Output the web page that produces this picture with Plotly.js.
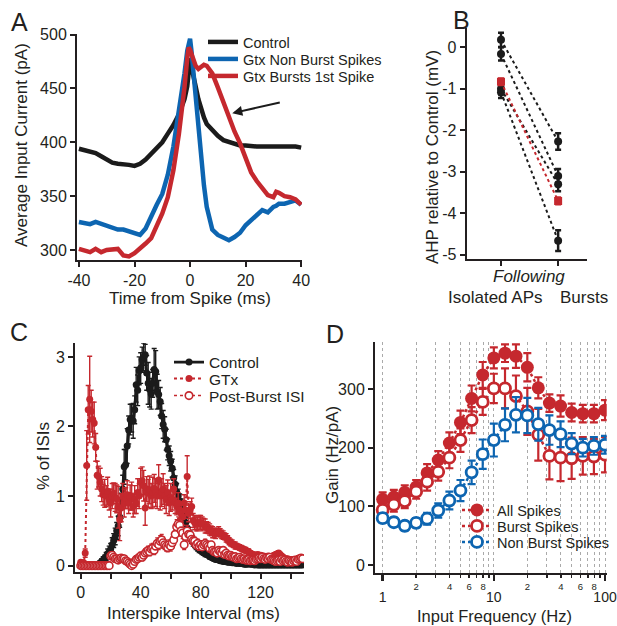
<!DOCTYPE html>
<html><head><meta charset="utf-8">
<script src="https://cdn.plot.ly/plotly-3.0.1.min.js"></script>
<style>html,body{margin:0;padding:0;background:#fff}#chart{width:617px;height:626px}</style>
</head><body><div id="chart"></div>
<script>
// ---------- Panel A data ----------
const tA = [-40,-38,-36,-34,-32,-30,-28,-26,-24,-22,-20,-18,-16,-14,-12,-10,-8,-6,-4,-3,-2,-1,-0.5,0,0.5,1,2,3,4,5,6,7,8,10,12,14,16,18,20,22,24,26,28,30,31,32,34,36,38,40];
const aControl = [394,393,391,390,387,384,381,380,380,379,378,380,384,389,394,400,408,416,426,432,440,452,462,478,470,462,452,440,430,423,417,414,411,406,402,400,398,397,397,396,396,396,396,396,396,397,397,396,396,395];
const aNonBurst = [326,325,324,326,324,322,320,319,319,317,315,314,320,332,342,352,370,396,428,445,464,485,494,496,485,470,445,417,386,360,340,328,319,314,312,309,312,316,323,328,333,337,335,340,341,343,343,345,346,342];
const aBurst1st = [301,300,298,301,298,300,300,301,295,294,297,301,306,311,322,334,349,374,408,428,451,478,488,486,482,478,471,468,470,472,471,468,464,451,437,423,410,399,386,372,364,357,351,349,354,353,350,349,347,342];
const aNames = ['Control','Gtx Non Burst Spikes','Gtx Bursts 1st Spike'];

// ---------- Panel B data ----------
const bX = [0,1];
const bIso = [0.18,-0.16,-1.0,-1.08];
const bBurst = [-2.27,-3.1,-3.3,-4.66];
const bIsoErr = [0.17,0.16,0.14,0.14];
const bBurstErr = [0.2,0.17,0.17,0.25];
const bRed = [-0.83,-3.7];
const bRedErr = [0.08,0.08];

// ---------- Panel C data (1 ms bins) ----------
const tC = Array.from({length:149},(_,i)=>i);
const cControl = [
0,0,0,0,0,0,0,0,0,0,
0,0,0.02,0.04,0.06,0.08,0.1,0.13,0.17,0.2,
0.24,0.3,0.36,0.42,0.5,0.57,0.7,0.86,1.1,1.42,
1.45,1.72,1.95,2.1,2.12,2.08,2.24,2.6,2.52,2.8,
2.84,2.96,3.0,3.03,2.77,2.62,2.53,2.47,2.62,2.82,
2.79,2.5,2.46,2.36,2.15,2.03,1.96,1.81,1.67,1.58,
1.5,1.4,1.26,1.17,1.06,1.0,0.93,0.86,0.79,0.7,
0.62,0.54,0.48,0.43,0.38,0.34,0.31,0.28,0.26,0.24,
0.22,0.2,0.19,0.17,0.16,0.15,0.13,0.12,0.11,0.1,
0.09,0.09,0.08,0.07,0.07,0.06,0.06,0.06,0.05,0.05,
0.05,0.04,0.04,0.04,0.03,0.04,0.03,0.03,0.03,0.02,
0.02,0.02,0.03,0.02,0.02,0.02,0.01,0.02,0.01,0.01,
0.01,0.01,0.01,0.01,0.01,0.01,0.01,0.01,0.01,0.01,
0.01,0.01,0.01,0.01,0.01,0.01,0.01,0.01,0.01,0.01,
0.01,0.01,0.01,0.01,0.01,0.01,0.01,0.01,0.01];
const cControlErr = [
0,0,0,0,0,0,0,0,0,0,
0,0,0.02,0.03,0.04,0.05,0.05,0.06,0.07,0.08,
0.08,0.1,0.1,0.12,0.12,0.14,0.15,0.18,0.2,0.25,
0.22,0.25,0.2,0.22,0.2,0.25,0.2,0.25,0.22,0.2,
0.22,0.18,0.2,0.15,0.25,0.3,0.25,0.22,0.2,0.3,
0.3,0.25,0.2,0.2,0.18,0.2,0.18,0.15,0.15,0.14,
0.14,0.13,0.12,0.12,0.12,0.1,0.1,0.1,0.09,0.09,
0.08,0.08,0.07,0.07,0.06,0.06,0.05,0.05,0.05,0.05,
0.04,0.04,0.04,0.04,0.03,0.03,0.03,0.03,0.03,0.03,
0.02,0.02,0.02,0.02,0.02,0.02,0.02,0.02,0.02,0.02,
0.02,0.02,0.02,0.02,0.02,0.02,0.02,0.02,0.02,0.02,
0.02,0.02,0.02,0.02,0.02,0.02,0.02,0.02,0.02,0.02,
0.01,0.01,0.01,0.01,0.01,0.01,0.01,0.01,0.01,0.01,
0.01,0.01,0.01,0.01,0.01,0.01,0.01,0.01,0.01,0.01,
0.01,0.01,0.01,0.01,0.01,0.01,0.01,0.01,0.01];
const cGtx = [
0.05,0.04,0.04,0.18,1.44,2.24,2.39,2.22,2.1,2.05,
1.7,1.3,1.28,1.2,1.1,1.02,1.04,1.0,1.07,0.95,
0.9,1.0,1.04,0.98,0.96,0.84,0.66,0.83,1.0,0.9,
0.97,1.02,0.9,0.98,1.0,0.85,0.95,0.9,1.05,1.0,
1.2,1.22,1.15,0.83,1.1,1.04,1.09,1.0,1.05,1.11,
1.05,1.0,1.23,1.0,1.05,1.1,1.0,0.95,1.05,0.9,
0.98,0.95,1.1,0.9,0.85,0.9,0.8,0.75,0.7,0.9,
0.8,1.28,0.75,0.8,0.85,0.65,0.62,0.6,0.6,0.62,
0.62,0.6,0.6,0.57,0.55,0.54,0.52,0.5,0.48,0.47,
0.46,0.48,0.49,0.47,0.45,0.44,0.42,0.4,0.38,0.35,
0.33,0.32,0.3,0.29,0.28,0.27,0.26,0.25,0.24,0.23,
0.22,0.21,0.2,0.18,0.17,0.16,0.15,0.15,0.16,0.15,
0.15,0.14,0.14,0.13,0.13,0.14,0.13,0.13,0.14,0.15,
0.16,0.17,0.18,0.16,0.14,0.12,0.1,0.1,0.1,0.09,
0.09,0.08,0.08,0.09,0.09,0.1,0.1,0.1,0.1];
const cGtxErr = [
0.02,0.02,0.02,0.06,0.5,0.35,0.62,0.3,0.25,0.3,
0.2,0.2,0.15,0.2,0.18,0.15,0.2,0.15,0.2,0.15,
0.2,0.18,0.15,0.2,0.2,0.3,0.3,0.2,0.18,0.2,
0.15,0.2,0.15,0.18,0.2,0.15,0.2,0.15,0.2,0.18,
0.2,0.2,0.22,0.25,0.18,0.2,0.2,0.18,0.22,0.2,
0.2,0.18,0.22,0.2,0.2,0.22,0.18,0.2,0.18,0.18,
0.2,0.15,0.15,0.15,0.12,0.15,0.12,0.12,0.12,0.12,
0.12,0.3,0.12,0.12,0.12,0.1,0.1,0.1,0.1,0.1,
0.1,0.1,0.08,0.1,0.08,0.08,0.08,0.07,0.08,0.07,
0.07,0.06,0.07,0.06,0.06,0.06,0.05,0.06,0.05,0.05,
0.05,0.05,0.04,0.05,0.04,0.04,0.04,0.04,0.04,0.04,
0.04,0.03,0.04,0.03,0.03,0.03,0.03,0.03,0.03,0.03,
0.03,0.03,0.03,0.03,0.03,0.03,0.03,0.03,0.03,0.03,
0.03,0.03,0.03,0.03,0.03,0.03,0.03,0.03,0.03,0.03,
0.03,0.03,0.03,0.03,0.03,0.03,0.03,0.03,0.03];
const cPost = [
0,0,0,0,0,0,0,0,0,0,
0,0,0,0,0,0,0,0,0,0,
0.14,0.15,0.12,0.1,0.1,0.08,0.1,0.11,0.1,0.1,
0.07,0.06,0.04,0.02,0.0,0.02,0.06,0.09,0.1,0.12,
0.14,0.12,0.15,0.18,0.2,0.22,0.2,0.24,0.25,0.22,
0.28,0.32,0.3,0.35,0.37,0.33,0.3,0.28,0.26,0.3,
0.28,0.33,0.37,0.45,0.56,0.6,0.58,0.5,0.47,0.3,
0.42,0.5,0.45,0.44,0.38,0.36,0.35,0.3,0.32,0.28,
0.3,0.27,0.3,0.32,0.3,0.28,0.25,0.3,0.22,0.2,
0.2,0.18,0.22,0.2,0.18,0.22,0.16,0.18,0.15,0.14,
0.15,0.13,0.12,0.13,0.1,0.11,0.12,0.1,0.09,0.1,
0.08,0.08,0.09,0.07,0.08,0.08,0.07,0.09,0.1,0.11,
0.1,0.12,0.1,0.09,0.11,0.1,0.12,0.09,0.08,0.07,
0.06,0.07,0.08,0.06,0.09,0.07,0.08,0.06,0.05,0.07,
0.06,0.05,0.07,0.08,0.06,0.09,0.1,0.11,0.1];
const cPostErr = [
0,0,0,0,0,0,0,0,0,0,
0,0,0,0,0,0,0,0,0,0,
0.05,0.05,0.04,0.04,0.04,0.04,0.04,0.04,0.04,0.04,
0.04,0.04,0.03,0.03,0.03,0.03,0.04,0.04,0.04,0.05,
0.05,0.05,0.05,0.06,0.06,0.06,0.06,0.07,0.07,0.06,
0.07,0.08,0.07,0.08,0.08,0.08,0.07,0.07,0.06,0.07,
0.07,0.08,0.08,0.08,0.1,0.1,0.1,0.08,0.08,0.07,
0.08,0.08,0.08,0.07,0.07,0.07,0.06,0.06,0.06,0.06,
0.06,0.05,0.06,0.06,0.05,0.05,0.05,0.05,0.05,0.04,
0.04,0.04,0.04,0.04,0.04,0.04,0.04,0.04,0.04,0.04,
0.04,0.04,0.04,0.04,0.04,0.04,0.04,0.04,0.04,0.04,
0.03,0.03,0.03,0.03,0.03,0.03,0.03,0.03,0.03,0.03,
0.03,0.03,0.03,0.03,0.03,0.03,0.03,0.03,0.03,0.03,
0.03,0.03,0.03,0.03,0.03,0.03,0.03,0.03,0.03,0.03,
0.03,0.03,0.03,0.03,0.03,0.03,0.03,0.03,0.03];

// ---------- Panel D data ----------
const fD = [1,1.26,1.58,2,2.51,3.16,3.98,5.01,6.31,7.94,10,12.6,15.8,20,25.1,31.6,39.8,50.1,63.1,79.4,100];
const dAll = [112,116,124,133,157,179,208,243,284,324,353,361,356,337,302,276,271,260,258,258,264];
const dAllErr = [12,12,12,12,15,15,18,20,22,22,18,15,20,24,18,15,18,15,15,15,17];
const dBurst = [94,103,109,125,142,159,183,213,247,278,301,301,288,262,222,186,183,182,186,185,188];
const dBurstErr = [10,12,12,12,15,15,18,20,22,22,25,34,35,40,44,40,40,35,32,30,30];
const dNon = [80,73,67,72,79,93,110,127,158,189,213,239,256,255,240,230,223,207,200,203,205];
const dNonErr = [8,8,8,8,10,12,15,18,20,25,28,28,30,30,28,25,22,18,15,15,15];
const dMinorVals = [1,2,3,4,5,6,7,8,9,10,20,30,40,50,60,70,80,90,100];
const dMinorText = ['','2','','4','','6','','8','','','2','','4','','6','','8','',''];
const dMajorVals = [1,10,100];
const dMajorText = ['1','10','100'];

// ---------- styling ----------
const W = 617, H = 626;
const RED = '#c5282e', BLUE = '#0d65b1', BLK = '#1b1b1b', TXT = '#231f20';
const FONT = 'Liberation Sans, Arial, sans-serif';
const dx = (a,b)=>[a/W,b/W];
const dy = (t,b)=>[1-b/H,1-t/H];
const base = {showline:true, linewidth:2, linecolor:TXT, ticks:'outside', ticklen:5, tickwidth:2, tickcolor:TXT,
  showgrid:false, zeroline:false, tickfont:{size:16,color:TXT,family:FONT}, fixedrange:true};

const traces = [];
// A
[[aControl,BLK],[aNonBurst,BLUE],[aBurst1st,RED]].forEach((p,i)=>{
  traces.push({x:tA, y:p[0], xaxis:'x', yaxis:'y', type:'scatter', mode:'lines', name:aNames[i],
    line:{color:p[1], width:4.5}, legend: i===0 ? 'legend' : 'legend'+(i+1)});
});
// B
bIso.forEach((v,i)=>{
  traces.push({x:bX, y:[v,bBurst[i]], xaxis:'x2', yaxis:'y2', type:'scatter', mode:'lines+markers', showlegend:false,
    line:{color:BLK, width:2, dash:'dot'}, marker:{color:BLK, size:8},
    error_y:{type:'data', array:[bIsoErr[i],bBurstErr[i]], color:BLK, thickness:2.5, width:3}});
});
traces.push({x:bX, y:bRed, xaxis:'x2', yaxis:'y2', type:'scatter', mode:'lines+markers', showlegend:false,
  line:{color:RED, width:2, dash:'dot'}, marker:{color:RED, size:8, symbol:'square'},
  error_y:{type:'data', array:bRedErr, color:RED, thickness:2.5, width:3}});
// C
traces.push({x:tC, y:cControl, xaxis:'x3', yaxis:'y3', type:'scatter', mode:'lines+markers', name:'Control', legend:'legend4',
  line:{color:BLK, width:2.8}, marker:{color:BLK, size:7},
  error_y:{type:'data', array:cControlErr, color:BLK, thickness:1.4, width:2.5}});
traces.push({x:tC, y:cGtx, xaxis:'x3', yaxis:'y3', type:'scatter', mode:'lines+markers', name:'GTx', legend:'legend5',
  line:{color:RED, width:2, dash:'dot'}, marker:{color:RED, size:7},
  error_y:{type:'data', array:cGtxErr, color:RED, thickness:1.4, width:2.5}});
traces.push({x:tC, y:cPost, xaxis:'x3', yaxis:'y3', type:'scatter', mode:'lines+markers', name:'Post-Burst ISI', legend:'legend6',
  line:{color:RED, width:1.5, dash:'dot'}, marker:{color:'#fff', size:7.5, line:{color:RED, width:1.6}},
  error_y:{type:'data', array:cPostErr, color:RED, thickness:1.3, width:2}});
// D
traces.push({x:fD, y:dAll, xaxis:'x4', yaxis:'y4', type:'scatter', mode:'lines+markers', name:'All Spikes', legend:'legend7',
  line:{color:RED, width:2.5, dash:'dot'}, marker:{color:RED, size:13},
  error_y:{type:'data', array:dAllErr, color:RED, thickness:2.2, width:4}});
traces.push({x:fD, y:dBurst, xaxis:'x4', yaxis:'y4', type:'scatter', mode:'lines+markers', name:'Burst Spikes', legend:'legend8',
  line:{color:RED, width:2.5, dash:'dot'}, marker:{color:'#fff', size:11, line:{color:RED, width:2.8}},
  error_y:{type:'data', array:dBurstErr, color:RED, thickness:2.2, width:4}});
traces.push({x:fD, y:dNon, xaxis:'x5', yaxis:'y4', type:'scatter', mode:'lines+markers', name:'Non Burst Spikes', legend:'legend9',
  line:{color:BLUE, width:2.5, dash:'dot'}, marker:{color:'#fff', size:11, line:{color:BLUE, width:2.8}},
  error_y:{type:'data', array:dNonErr, color:BLUE, thickness:2.2, width:4}});

const ann = [];
function txt(t,x,y,size,extra){ann.push(Object.assign({text:t, xref:'paper', yref:'paper', x:x/W, y:1-y/H, showarrow:false,
  xanchor:'center', yanchor:'middle', font:{size:size, color:TXT, family:FONT}}, extra||{}));}
txt('A',19,22,25); txt('B',461,20,25); txt('C',19,332,25); txt('D',335,334,25);
txt('Time from Spike (ms)',190,298,17);
txt('Average Input Current (pA)',21,145,17,{textangle:-90});
txt('AHP relative to Control (mV)',432,157,17,{textangle:-90});
txt('<i>Following</i>',529,277,17);
txt('Isolated APs',495.5,297,17);
txt('Bursts',584,297,17);
txt('Interspike Interval (ms)',193,613,17);
txt('% of ISIs',43,456,17,{textangle:-90});
txt('Input Frequency (Hz)',494,616,16.5);
txt('Gain (Hz/pA)',333,455,17,{textangle:-90});
// arrow in A pointing at red trace
ann.push({xref:'x', yref:'y', x:15.2, y:427, ax:49, ay:-11, axref:'pixel', ayref:'pixel', showarrow:true,
  arrowhead:2, arrowsize:1, arrowwidth:2, arrowcolor:BLK, text:''});

// one legend per entry; (x of legend left, y of entry centre) in px
const leg = (x,cy,size)=>({x:x/W, y:1-(cy-16)/H, xanchor:'left', yanchor:'top', bgcolor:'rgba(0,0,0,0)',
  font:{size:size, color:TXT, family:FONT}, borderwidth:0});

const layout = {
  width:W, height:H, margin:{l:0,r:0,t:0,b:0}, paper_bgcolor:'#fff', plot_bgcolor:'rgba(0,0,0,0)',
  font:{family:FONT, color:TXT},
  showlegend:true,
  legend: leg(203,42,14.5), legend2: leg(203,59,14.5), legend3: leg(203,76,14.5),
  legend4: leg(169,361.5,15.5), legend5: leg(169,378,15.5), legend6: leg(169,395,15.5),
  legend7: leg(457,510,14.5), legend8: leg(457,526,14.5), legend9: leg(457,542,14.5),
  xaxis: Object.assign({}, base, {domain:dx(77,302), range:[-40.7,40.3], anchor:'y', tickvals:[-40,-20,0,20,40], ticktext:['-40','-20','0','20','40']}),
  yaxis: Object.assign({}, base, {domain:dy(34,260), range:[290.7,500.5], anchor:'x', tickvals:[300,350,400,450,500]}),
  xaxis2: Object.assign({}, base, {domain:dx(466.7,586.7), range:[-0.6,1.5], anchor:'y2', tickvals:[0,1], showticklabels:false}),
  yaxis2: Object.assign({}, base, {domain:dy(28,259), range:[-5.1,0.465], anchor:'x2', tickvals:[0,-1,-2,-3,-4,-5], ticktext:['0','-1','-2','-3','-4','-5']}),
  xaxis3: Object.assign({}, base, {domain:dx(75,304), range:[-3.8,148.9], anchor:'y3', tickvals:[0,20,40,60,80,100,120,140], ticktext:['0','','40','','80','','120','']}),
  yaxis3: Object.assign({}, base, {domain:dy(343,571.7), range:[-0.087,3.2], anchor:'x3', tickvals:[0,1,2,3]}),
  xaxis4: Object.assign({}, base, {domain:dx(375,606.7), type:'log', range:[-0.069,2.015], anchor:'y4', tickvals:dMinorVals, ticktext:dMinorText,
    ticklen:3, tickwidth:1.5, tickfont:{size:9.5,color:TXT,family:FONT}, showgrid:true, gridcolor:'#aaa', griddash:'dot', gridwidth:1}),
  xaxis5: Object.assign({}, base, {overlaying:'x4', anchor:'y4', side:'bottom', type:'log', range:[-0.069,2.015], tickvals:dMajorVals, ticktext:dMajorText,
    showline:false, ticklen:7, tickwidth:2.5, ticklabelstandoff:4, ticklabeloverflow:'allow', tickfont:{size:14,color:TXT,family:FONT}}),
  yaxis4: Object.assign({}, base, {domain:dy(341.7,573.3), range:[-14,380.6], anchor:'x4', tickvals:[0,100,200,300]}),
  annotations: ann
};
Plotly.newPlot('chart', traces, layout, {displayModeBar:false, staticPlot:true});
</script></body></html>
